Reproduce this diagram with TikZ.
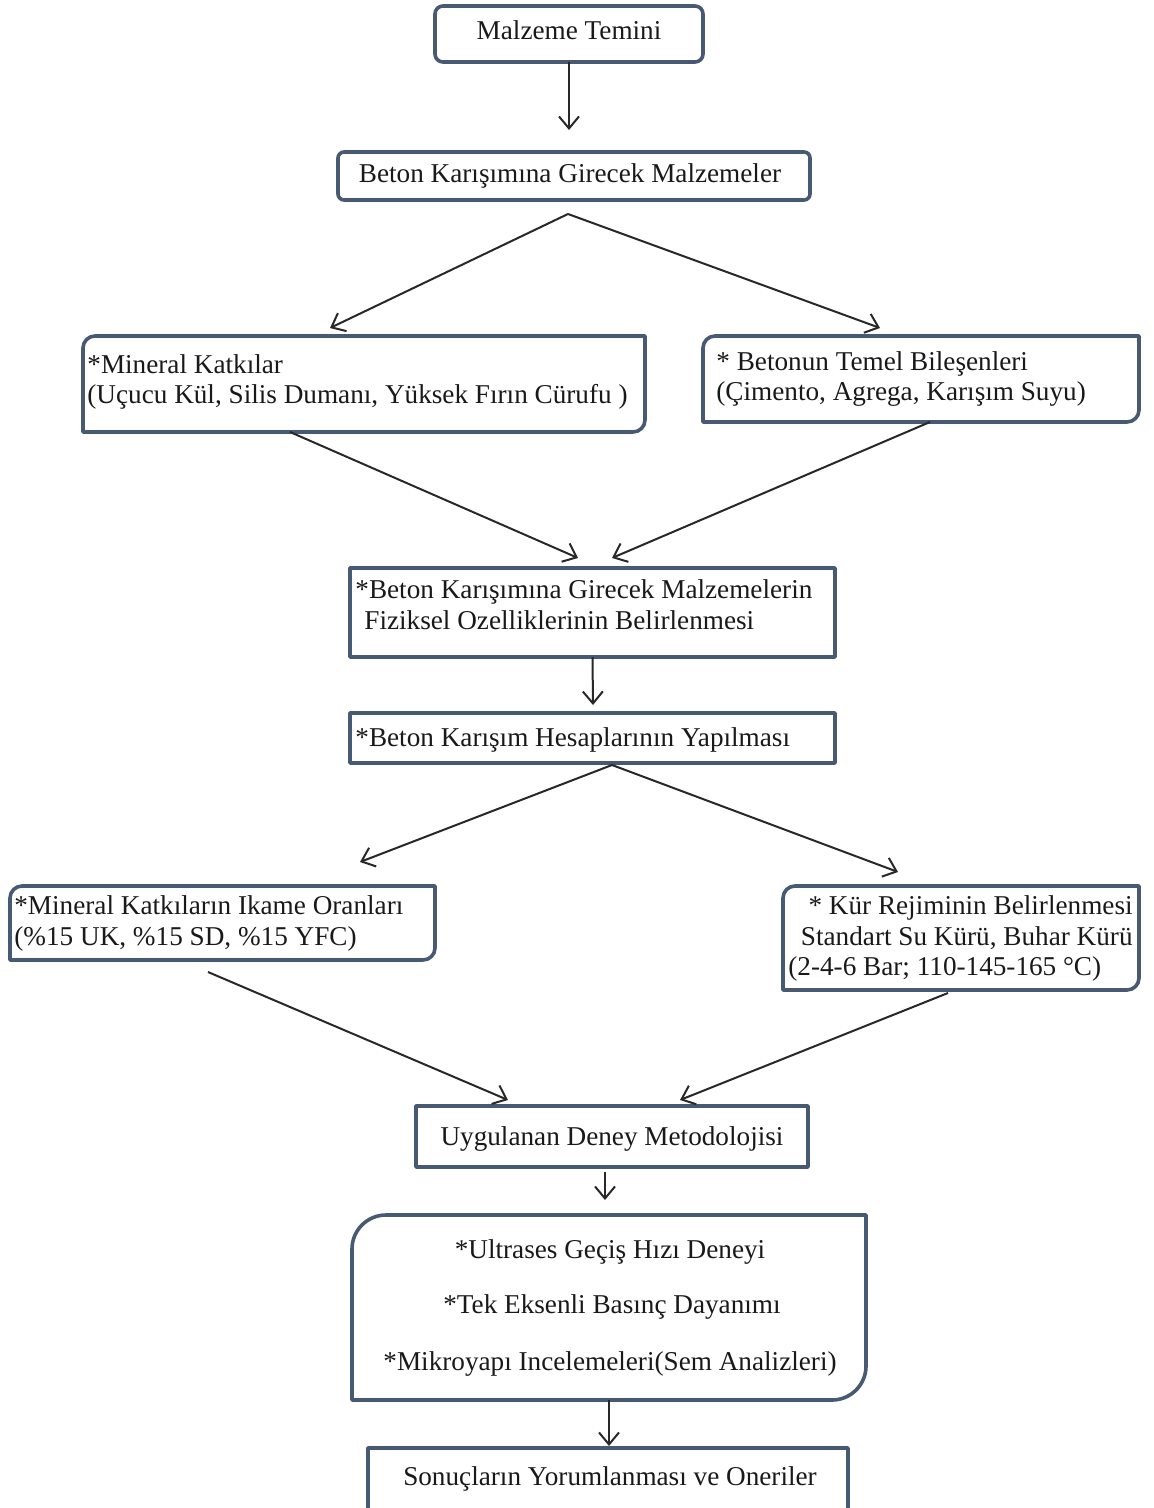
\documentclass[tikz,border=0pt]{standalone}
\usepackage{fontspec}
\setmainfont{Liberation Serif}
\usetikzlibrary{arrows.meta,fit}
\definecolor{boxc}{RGB}{72,90,115}
\definecolor{arrc}{RGB}{40,40,40}
\definecolor{txtc}{RGB}{25,25,25}
\tikzset{
  boxarea/.style={inner sep=0pt, outer sep=0pt, draw=none},
  boxline/.style={draw=boxc, line width=1.8pt, line join=round},
  txt/.style={inner sep=0pt, text=txtc, font=\fontsize{13.6pt}{16pt}\selectfont},
  conn/.style={draw=arrc, line width=1pt, -{Straight Barb[length=6pt,width=10pt]}},
}
\newcommand\outlineTLBR[2]{%
  \draw[boxline] (#1.south west) -- ([yshift=-#2]#1.north west)
    arc[start angle=180,end angle=90,radius=#2] -- (#1.north east)
    -- ([yshift=#2]#1.south east)
    arc[start angle=0,end angle=-90,radius=#2] -- cycle;}
\begin{document}
\begin{tikzpicture}[x=0.5pt,y=0.5pt]
\fill[white] (0,0) rectangle (1154,-1508);
\useasboundingbox (0,0) rectangle (1154,-1508);

% boxes
\node[boxarea, fit={(435,-6)(703,-62)}] (b1) {};
\node[boxarea, fit={(338,-152)(810,-200)}] (b2) {};
\node[boxarea, fit={(83,-336)(645,-432)}] (b3) {};
\node[boxarea, fit={(703,-336)(1139,-422)}] (b4) {};
\node[boxarea, fit={(350,-568)(835,-657)}] (b5) {};
\node[boxarea, fit={(350,-713)(835,-763)}] (b6) {};
\node[boxarea, fit={(10,-886)(435,-960)}] (b7) {};
\node[boxarea, fit={(783,-886)(1139,-990)}] (b8) {};
\node[boxarea, fit={(416,-1106)(808,-1167)}] (b9) {};
\node[boxarea, fit={(352,-1215)(866,-1400)}] (b10) {};
\node[boxarea, fit={(368,-1448)(848,-1514)}] (b11) {};

\draw[boxline, rounded corners=4pt] (b1.south west) rectangle (b1.north east);
\draw[boxline, rounded corners=3pt] (b2.south west) rectangle (b2.north east);
\outlineTLBR{b3}{6pt}
\outlineTLBR{b4}{6pt}
\draw[boxline] (b5.south west) rectangle (b5.north east);
\draw[boxline] (b6.south west) rectangle (b6.north east);
\outlineTLBR{b7}{6pt}
\outlineTLBR{b8}{6pt}
\draw[boxline] (b9.south west) rectangle (b9.north east);
\outlineTLBR{b10}{17pt}
\draw[boxline] (b11.south west) rectangle (b11.north east);

% texts
\node[txt, anchor=base] (t1) at (569,-40) {Malzeme Temini};
\node[txt, anchor=base] (t2) at (570,-183) {Beton Karışımına Girecek Malzemeler};
\node[txt, anchor=base west] (t3a) at (87,-373) {*Mineral Katkılar};
\node[txt, anchor=base west] (t3b) at (87,-403) {(Uçucu Kül, Silis Dumanı, Yüksek Fırın Cürufu )};
\node[txt, anchor=base west] (t4a) at (716,-371) {* Betonun Temel Bileşenleri};
\node[txt, anchor=base west] (t4b) at (716,-400) {(Çimento, Agrega, Karışım Suyu)};
\node[txt, anchor=base west] (t5a) at (355,-598) {*Beton Karışımına Girecek Malzemelerin};
\node[txt, anchor=base west] (t5b) at (364,-629) {Fiziksel Ozelliklerinin Belirlenmesi};
\node[txt, anchor=base west] (t6) at (355,-746) {*Beton Karışım Hesaplarının Yapılması};
\node[txt, anchor=base west] (t7a) at (14,-914) {*Mineral Katkıların Ikame Oranları};
\node[txt, anchor=base west] (t7b) at (14,-945) {(\%15 UK, \%15 SD, \%15 YFC)};
\node[txt, anchor=base east] (t8a) at (1133,-914) {* Kür Rejiminin Belirlenmesi};
\node[txt, anchor=base east] (t8b) at (1133,-945) {Standart Su Kürü, Buhar Kürü};
\node[txt, anchor=base west] (t8c) at (788,-975) {(2-4-6 Bar; 110-145-165 °C)};
\node[txt, anchor=base] (t9) at (612,-1145) {Uygulanan Deney Metodolojisi};
\node[txt, anchor=base] (t10a) at (610,-1258) {*Ultrases Geçiş Hızı Deneyi};
\node[txt, anchor=base] (t10b) at (612,-1313) {*Tek Eksenli Basınç Dayanımı};
\node[txt, anchor=base] (t10c) at (610,-1370) {*Mikroyapı Incelemeleri(Sem Analizleri)};
\node[txt, anchor=base] (t11) at (610,-1485) {Sonuçların Yorumlanması ve Oneriler};

% connector coordinates
\coordinate (e1) at (569,-130);
\coordinate (ap1) at (568,-214);
\coordinate (e2a) at (330,-328);
\coordinate (e2b) at (880,-328);
\coordinate (e3a) at (578,-558);
\coordinate (e3b) at (612,-558);
\coordinate (e4) at (593,-705);
\coordinate (ap2) at (612,-765);
\coordinate (e5a) at (360,-862);
\coordinate (e5b) at (898,-872);
\coordinate (s6a) at (208,-972);
\coordinate (s6b) at (948,-993);
\coordinate (e6a) at (508,-1100);
\coordinate (e6b) at (680,-1100);
\coordinate (s7) at (605,-1172);
\coordinate (e7) at (605,-1200);
\coordinate (e8) at (609,-1446);

% connectors
\draw[conn] (b1.south) -- (e1);
\draw[conn] (ap1) -- (e2a);
\draw[conn] (ap1) -- (e2b);
\draw[conn] ([xshift=103.5pt]b3.south west) -- (e3a);
\draw[conn] ([xshift=113.5pt]b4.south west) -- (e3b);
\draw[conn] (b5.south) -- (e4);
\draw[conn] (ap2) -- (e5a);
\draw[conn] (ap2) -- (e5b);
\draw[conn] (s6a) -- (e6a);
\draw[conn] (s6b) -- (e6b);
\draw[conn] (s7) -- (e7);
\draw[conn] (b10.south) -- (e8);
\end{tikzpicture}
\end{document}
